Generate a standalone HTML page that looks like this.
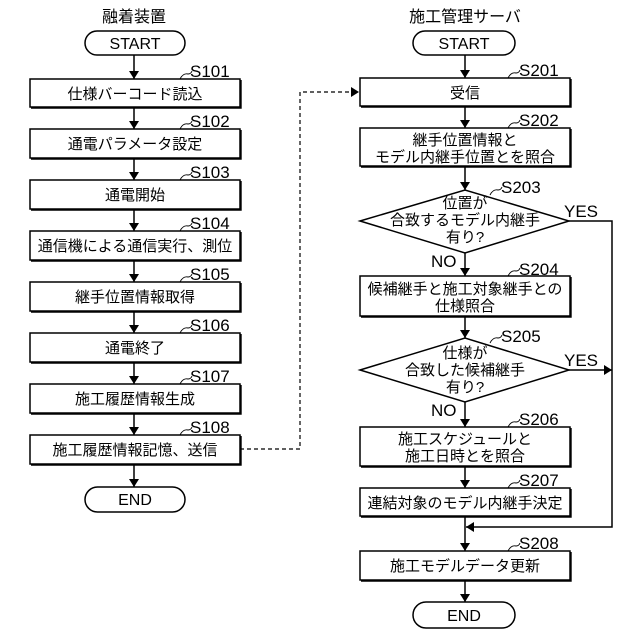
<!DOCTYPE html>
<html><head><meta charset="utf-8"><style>
html,body{margin:0;padding:0;background:#fff;}
svg{display:block;}
text{font-family:"Liberation Sans","Noto Sans CJK JP",sans-serif;fill:#000;}
.t{font-size:15px;text-anchor:middle;}
.s{font-size:17px;}
</style></head><body>
<svg width="640" height="640" viewBox="0 0 640 640" xmlns="http://www.w3.org/2000/svg">
<defs>
<marker id="a" markerWidth="8" markerHeight="10" refX="8" refY="5" orient="auto" markerUnits="userSpaceOnUse">
<path d="M0,0 L8,5 L0,10 z" fill="#000"/></marker>
</defs>
<g stroke="#000" stroke-width="1.5" fill="none">
<text class="t" x="134" y="22" stroke="none" style="font-size:16px">融着装置</text>
<rect x="85" y="31" width="100" height="24" rx="12" fill="#fff"/>
<rect x="30" y="79" width="210" height="28" fill="#fff"/>
<rect x="30" y="129" width="210" height="29" fill="#fff"/>
<rect x="30" y="180" width="210" height="29" fill="#fff"/>
<rect x="30" y="231" width="210" height="29" fill="#fff"/>
<rect x="30" y="282" width="210" height="29" fill="#fff"/>
<rect x="30" y="333" width="210" height="29" fill="#fff"/>
<rect x="30" y="384" width="210" height="29" fill="#fff"/>
<rect x="30" y="435" width="210" height="29" fill="#fff"/>
<rect x="85" y="487" width="100" height="25" rx="12.5" fill="#fff"/>
<g marker-end="url(#a)">
<line x1="134" y1="55" x2="134" y2="79"/>
<line x1="134" y1="107" x2="134" y2="129"/>
<line x1="134" y1="158" x2="134" y2="180"/>
<line x1="134" y1="209" x2="134" y2="231"/>
<line x1="134" y1="260" x2="134" y2="282"/>
<line x1="134" y1="311" x2="134" y2="333"/>
<line x1="134" y1="362" x2="134" y2="384"/>
<line x1="134" y1="413" x2="134" y2="435"/>
<line x1="134" y1="464" x2="134" y2="487"/>
</g>
<g stroke-width="1.4">
<path d="M241,80 V108 H31"/><path d="M241,130 V159 H31"/><path d="M241,181 V210 H31"/><path d="M241,232 V261 H31"/>
<path d="M241,283 V312 H31"/><path d="M241,334 V363 H31"/><path d="M241,385 V414 H31"/><path d="M241,436 V465 H31"/>
<path d="M571,79 V107 H361"/><path d="M571,129 V167 H361"/><path d="M571,277 V317 H361"/><path d="M571,428 V467 H361"/>
<path d="M571,489 V517 H361"/><path d="M571,552 V581 H361"/>
</g>
<path d="M240,449 H300 V92 H359" stroke-width="1.2" stroke-dasharray="4,3" marker-end="url(#a)"/>
<text class="t" x="465" y="22" stroke="none" style="font-size:16px">施工管理サーバ</text>
<rect x="413" y="31" width="102" height="24" rx="12" fill="#fff"/>
<rect x="360" y="78" width="210" height="28" fill="#fff"/>
<rect x="360" y="128" width="210" height="38" fill="#fff"/>
<polygon points="360,221 465,190 569,221 465,253" fill="#fff"/>
<rect x="360" y="276" width="210" height="40" fill="#fff"/>
<polygon points="360,370 465,338 569,370 465,402" fill="#fff"/>
<rect x="360" y="427" width="210" height="39" fill="#fff"/>
<rect x="360" y="488" width="210" height="28" fill="#fff"/>
<rect x="360" y="551" width="210" height="29" fill="#fff"/>
<rect x="413" y="602" width="102" height="26" rx="13" fill="#fff"/>
<g marker-end="url(#a)">
<line x1="465" y1="55" x2="465" y2="78"/>
<line x1="465" y1="106" x2="465" y2="128"/>
<line x1="465" y1="166" x2="465" y2="190"/>
<line x1="465" y1="253" x2="465" y2="276"/>
<line x1="465" y1="316" x2="465" y2="338"/>
<line x1="465" y1="402" x2="465" y2="427"/>
<line x1="465" y1="466" x2="465" y2="488"/>
<line x1="465" y1="516" x2="465" y2="551"/>
<line x1="465" y1="580" x2="465" y2="602"/>
<line x1="569" y1="370" x2="612" y2="370"/>
</g>
<path d="M569,221 H612 V527 H466" marker-end="url(#a)"/>
<g stroke-width="0.9">
<path d="M180,79 q3,-6 8,-5 q3,0 4,-3"/><path d="M180,129 q3,-6 8,-5 q3,0 4,-3"/><path d="M180,180 q3,-6 8,-5 q3,0 4,-3"/>
<path d="M180,231 q3,-6 8,-5 q3,0 4,-3"/><path d="M180,282 q3,-6 8,-5 q3,0 4,-3"/><path d="M180,333 q3,-6 8,-5 q3,0 4,-3"/>
<path d="M180,384 q3,-6 8,-5 q3,0 4,-3"/><path d="M180,435 q3,-6 8,-5 q3,0 4,-3"/>
<path d="M508,78 q3,-6 8,-5 q3,0 4,-3"/><path d="M508,128 q3,-6 8,-5 q3,0 4,-3"/><path d="M490,195 q3,-6 8,-5 q3,0 4,-3"/>
<path d="M508,276 q3,-6 8,-5 q3,0 4,-3"/><path d="M490,343 q3,-6 8,-5 q3,0 4,-3"/><path d="M508,427 q3,-6 8,-5 q3,0 4,-3"/>
<path d="M508,488 q3,-6 8,-5 q3,0 4,-3"/><path d="M508,551 q3,-6 8,-5 q3,0 4,-3"/>
</g>
</g>
<text class="t" x="135" y="49" style="font-size:16px">START</text>
<text class="t" x="135" y="99">仕様バーコード読込</text>
<text class="t" x="135" y="149">通電パラメータ設定</text>
<text class="t" x="135" y="200">通電開始</text>
<text class="t" x="135" y="251">通信機による通信実行、測位</text>
<text class="t" x="135" y="302">継手位置情報取得</text>
<text class="t" x="135" y="353">通電終了</text>
<text class="t" x="135" y="404">施工履歴情報生成</text>
<text class="t" x="135" y="455">施工履歴情報記憶、送信</text>
<text class="t" x="135" y="505" style="font-size:16px">END</text>
<text class="s" x="190" y="77">S101</text><text class="s" x="190" y="127">S102</text><text class="s" x="190" y="178">S103</text>
<text class="s" x="190" y="229">S104</text><text class="s" x="190" y="280">S105</text><text class="s" x="190" y="331">S106</text>
<text class="s" x="190" y="382">S107</text><text class="s" x="190" y="433">S108</text>
<text class="t" x="464" y="49" style="font-size:16px">START</text>
<text class="t" x="465" y="98">受信</text>
<text class="t" x="465" y="145">継手位置情報と</text>
<text class="t" x="465" y="162">モデル内継手位置とを照合</text>
<text class="t" x="465" y="208">位置が</text>
<text class="t" x="465" y="225">合致するモデル内継手</text>
<text class="t" x="465" y="242">有り?</text>
<text class="t" x="465" y="294">候補継手と施工対象継手との</text>
<text class="t" x="465" y="311">仕様照合</text>
<text class="t" x="465" y="358">仕様が</text>
<text class="t" x="465" y="375">合致した候補継手</text>
<text class="t" x="465" y="392">有り?</text>
<text class="t" x="465" y="444">施工スケジュールと</text>
<text class="t" x="465" y="461">施工日時とを照合</text>
<text class="t" x="465" y="508">連結対象のモデル内継手決定</text>
<text class="t" x="465" y="571">施工モデルデータ更新</text>
<text class="t" x="464" y="621" style="font-size:16px">END</text>
<text class="s" x="519" y="76">S201</text><text class="s" x="519" y="126">S202</text><text class="s" x="501" y="193">S203</text>
<text class="s" x="519" y="275">S204</text><text class="s" x="501" y="342">S205</text><text class="s" x="519" y="425">S206</text>
<text class="s" x="519" y="486">S207</text><text class="s" x="519" y="549">S208</text>
<text class="s" x="564" y="217">YES</text><text class="s" x="564" y="366">YES</text>
<text class="s" x="431" y="267">NO</text><text class="s" x="431" y="416">NO</text>
</svg>
</body></html>
